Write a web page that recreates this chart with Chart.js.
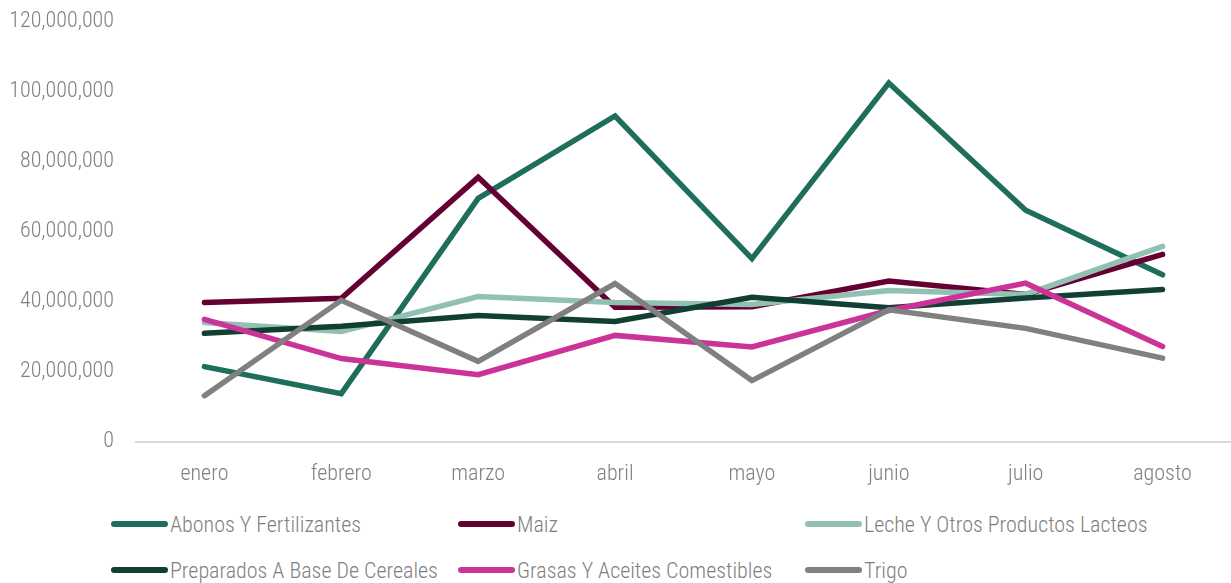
<!DOCTYPE html>
<html>
<head>
<meta charset="utf-8">
<script src="https://cdn.jsdelivr.net/npm/chart.js@4.4.1/dist/chart.umd.min.js"></script>
<style>
    body{ margin:0; background:#fff; }
    #wrap{ position:relative; width:1231px; height:500px; }
    #legend{ display:grid; grid-template-columns:347px 347px 347px; margin-left:111px; row-gap:18px; margin-top:10px; }
    .item{ display:flex; align-items:center; white-space:nowrap; font-family:"Roboto Condensed",sans-serif; font-weight:300; font-size:22px; color:#7f7f7f; height:28px; }
    .swatch{ width:57px; height:6px; border-radius:3px; margin-right:2px; }
</style>
</head>
<body>
<div id="wrap"><canvas id="lineChart"></canvas></div>
<div id="legend"></div>
<script>
// meses
const months = ["enero","febrero","marzo","abril","mayo","junio","julio","agosto"];

// series (valores aproximados)
const abonos     = [21400000, 13700000, 69400000, 92900000, 52200000, 102300000, 66000000, 47600000];
const maiz       = [39700000, 40900000, 75400000, 38300000, 38500000, 45800000, 42000000, 53400000];
const leche      = [34000000, 31400000, 41400000, 39700000, 39100000, 43100000, 42000000, 55700000];
const preparados = [30900000, 32900000, 36000000, 34300000, 41200000, 38200000, 41000000, 43400000];
const grasas     = [34900000, 23700000, 19100000, 30300000, 27000000, 37400000, 45200000, 27100000];
const trigo      = [13100000, 40300000, 22900000, 45100000, 17400000, 37600000, 32300000, 23800000];

const seriesNames = ["Abonos Y Fertilizantes","Maiz","Leche Y Otros Productos Lacteos","Preparados A Base De Cereales","Grasas Y Aceites Comestibles","Trigo"];
const seriesData = [abonos, maiz, leche, preparados, grasas, trigo];
const colors = ["#1f6e5b","#650032","#92c0b2","#123f33","#cb3399","#808080"];

const yTicks = [0, 20000000, 40000000, 60000000, 80000000, 100000000, 120000000];

const font = { family:"'Roboto Condensed', Roboto, sans-serif", size:22, weight:"300" };

const ctx = document.getElementById("lineChart").getContext("2d");

const chart = new Chart(ctx,{
    type:"line",
    data:{
        labels: months,
        datasets: seriesNames.map((name,i)=>({
            label: name,
            data: seriesData[i],
            borderColor: colors[i],
            backgroundColor: colors[i],
            borderWidth: 5.5,
            pointRadius: 0,
            tension: 0,
            borderCapStyle: "round",
            borderJoinStyle: "miter",
            order: seriesNames.length - i
        }))
    },
    options:{
        responsive: true,
        maintainAspectRatio: false,
        animation: false,
        layout:{ padding:{ top:21, right:0, left:0, bottom:0 } },
        plugins:{
            legend:{ display:false },
            tooltip:{ enabled:false }
        },
        scales:{
            x:{
                offset: true,
                grid:{ display:false },
                border:{ display:true, color:"#d9d9d9", width:2 },
                ticks:{ color:"#7f7f7f", font: font, padding:12 }
            },
            y:{
                min: 0,
                max: 120000000,
                afterBuildTicks: axis => { axis.ticks = yTicks.map(v => ({ value:v })); },
                afterFit: axis => { axis.width = 136; axis.paddingTop = 0; },
                grid:{ display:false },
                border:{ display:false },
                ticks:{
                    color:"#7f7f7f",
                    font: font,
                    padding: 14,
                    callback: v => v.toLocaleString("en-US")
                }
            }
        }
    }
});

// leyenda en tres columnas
const legend = document.getElementById("legend");
chart.data.datasets.forEach(ds=>{
    const item = document.createElement("div");
    item.className = "item";
    const sw = document.createElement("span");
    sw.className = "swatch";
    sw.style.background = ds.borderColor;
    const txt = document.createElement("span");
    txt.textContent = ds.label;
    item.appendChild(sw);
    item.appendChild(txt);
    legend.appendChild(item);
});
</script>
</body>
</html>
